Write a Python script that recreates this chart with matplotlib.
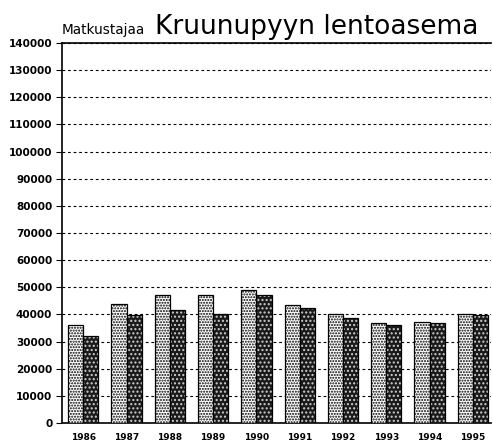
import matplotlib
matplotlib.use("Agg")
import matplotlib.pyplot as plt
import numpy as np

years = ["1986", "1987", "1988", "1989", "1990", "1991", "1992", "1993", "1994", "1995"]
series_a = [36000, 44000, 47300, 47000, 48900, 43400, 40200, 36800, 37300, 40000]
series_b = [32000, 39700, 41600, 40300, 47300, 42400, 38600, 36000, 37000, 39700]
yticks = list(range(0, 140001, 10000))

plt.rcParams['hatch.linewidth'] = 1.0

fig = plt.figure(figsize=(4.93, 4.45), dpi=100)
ax = fig.add_axes([62 / 493, 22 / 445, (491 - 62) / 493, 380 / 445])

x = np.arange(len(years))
w = 0.35

# light stippled bars
ax.bar(x - w / 2, series_a, w, facecolor="white", edgecolor="black",
       hatch="......", linewidth=0.9, zorder=3)
# dark stippled bars: dark fill with white dots, outlined in black
ax.bar(x + w / 2, series_b, w, facecolor="#1a1a1a", edgecolor="#cfcfcf",
       hatch="....", linewidth=0, zorder=3)
ax.bar(x + w / 2, series_b, w, fill=False, edgecolor="black",
       linewidth=0.9, zorder=4)

ax.set_xlim(-0.49, 9.42)
ax.set_ylim(0, 140000)
ax.set_yticks(yticks)
ax.set_yticklabels([str(v) for v in yticks], fontsize=7.5, fontweight="bold",
                   family="DejaVu Sans")
ax.set_xticks(x)
ax.set_xticklabels(years, fontsize=6.5, fontweight="bold", family="DejaVu Sans")
ax.tick_params(axis="y", length=4, width=0.8, pad=3)
ax.tick_params(axis="x", length=0, pad=7)

ax.set_axisbelow(True)
ax.yaxis.grid(True, linestyle=(0, (2.5, 2.5)), color="black", linewidth=0.8)

for s in ["left", "bottom", "top"]:
    ax.spines[s].set_linewidth(1.2)
    ax.spines[s].set_color("black")
ax.spines["right"].set_visible(False)

fig.text(62 / 493, (445 - 34) / 445, "Matkustajaa", fontsize=9.8, va="baseline",
         ha="left", family="DejaVu Sans")
fig.text(155 / 493, (445 - 34) / 445, "Kruunupyyn lentoasema", fontsize=19,
         va="baseline", ha="left", family="DejaVu Sans")

fig.savefig("out.png", dpi=100)
